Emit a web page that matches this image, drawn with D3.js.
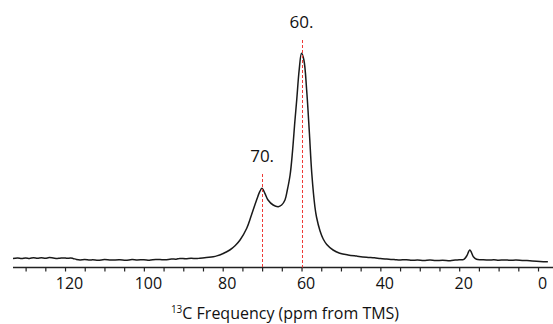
<!DOCTYPE html>
<html><head><meta charset="utf-8">
<script src="https://cdn.jsdelivr.net/npm/d3@7"></script>
<style>
html,body{margin:0;padding:0;background:#fff;}
svg{display:block;font-family:"Open Sans",sans-serif;}
</style></head>
<body><svg id="c" width="553" height="324"></svg>
<script>
// Spectrum trace: chemical shift (ppm) and intensity (arbitrary units)
const ppm = [133.2,132,131,130,129,128,127,126,125,124,123,122,121.3,120.3,119.5,118.6,118,117.1,116.2,115,113.7,113,111.6,110,108.4,106.1,104.6,103,101.7,100,98.6,97,95.9,94.6,93,91.8,90.9,89.4,88,86.7,85.8,84.6,83.5,82.4,81.5,80,78.2,76.8,75.6,73.9,72.7,71.4,70.6,70.05,69.3,68.5,67.2,65.9,65.05,64.2,63.6,62.9,62.3,61.7,61.2,60.6,60.0,59.4,58.7,58.0,57.4,56.6,56.2,55.3,54.5,53.6,52.0,50.3,48.2,46,43.5,41.5,40,38.4,37,36,35,33.4,32,30.6,29,27.4,26,24.2,22.3,21,20,18.8,18.1,17.3,16.4,15.6,14.3,12.5,11.2,10,8.5,7.1,5.6,4,2.8,1.5,-0.5,-2.5,-3.8];
const intensity = [3.5,3.9,3.4,4.1,3.6,4.3,3.8,4.2,3.7,4.4,4.0,3.6,3.8,4.1,3.7,4.0,3.6,2.6,2.1,2.4,1.9,2.3,1.8,2.4,2.0,2.2,1.7,2.4,2.0,2.3,1.8,2.6,2.5,2.2,3.0,2.8,3.6,3.3,3.7,3.4,3.8,4.3,4.7,5.3,6.1,8.3,12,16.5,22,33.7,47,62,70.3,73.7,68.7,62,57,55.3,57,62,72,87,110,140,163,192,208.7,202,172,128.7,88.7,55,45,31,23,17.5,12,8.8,7,5.9,4.8,4.2,3.5,3.0,2.6,2.2,2.0,2.3,1.7,2.0,1.5,1.9,1.4,1.7,1.3,1.9,2.2,2.7,6,12,5.3,2.7,2.3,1.9,2.2,1.8,2.1,1.7,2.0,1.6,1.5,1.1,0.6,0.3];
// Marked peaks
const peakPpm = [70, 60];
const peakLabels = ["70.", "60."];
const peakTop = [88, 222];
// Axis ticks
const tickValues = d3.range(130, -1, -5);
const labelValues = [120, 100, 80, 60, 40, 20, 0];
const xTitle = "Frequency (ppm from TMS)";

const svg = d3.select("#c");
const x = d3.scaleLinear().domain([133.2, -3.8]).range([13, 553]);
const y = d3.scaleLinear().domain([0, 220]).range([262, 42]);
const axisY = 267.5;

// axis
const ax = svg.append("g").attr("transform", `translate(0,${axisY})`)
  .call(d3.axisBottom(x).tickValues(tickValues).tickSize(4).tickSizeOuter(0)
    .tickFormat(d => labelValues.includes(d) ? d3.format("d")(d) : ""));
ax.select(".domain").attr("stroke", "#222").attr("stroke-width", 1.6).attr("d", "M13,0H553");
ax.selectAll(".tick line").attr("stroke", "#222").attr("stroke-width", 1.2);
ax.selectAll(".tick text").attr("font-size", 16).attr("fill", "#111").attr("y", 10).attr("dx", 4)
  .attr("font-family", "'Open Sans',sans-serif");

// x title
const t = svg.append("text").attr("x", 285).attr("y", 319).attr("text-anchor", "middle")
  .attr("font-size", 16).attr("fill", "#111");
t.append("tspan").attr("font-size", 10).attr("dy", -6).text("13");
t.append("tspan").attr("dy", 6).text("C " + xTitle);

// spectrum
const data = ppm.map((p, i) => [p, intensity[i]]);
svg.append("path").datum(data)
  .attr("fill", "none").attr("stroke", "#1a1a1a").attr("stroke-width", 1.5).attr("stroke-linejoin", "round")
  .attr("d", d3.line().x(d => x(d[0])).y(d => y(d[1])).curve(d3.curveCatmullRom.alpha(0.5)));

// reference lines
const pk = peakPpm.map((p, i) => ({p, label: peakLabels[i], top: peakTop[i]}));
const px = p => Math.round(x(p)) + 0.5;
svg.selectAll("line.ref").data(pk).join("line").attr("class", "ref")
  .attr("x1", d => px(d.p)).attr("x2", d => px(d.p))
  .attr("y1", d => y(d.top)).attr("y2", axisY)
  .attr("stroke", "#ee3a36").attr("stroke-width", 1).attr("stroke-dasharray", "3,2");
svg.selectAll("text.pk").data(pk).join("text").attr("class", "pk")
  .attr("x", d => x(d.p)).attr("y", d => y(d.top) - 12)
  .attr("text-anchor", "middle").attr("font-size", 17).attr("fill", "#111").text(d => d.label);
</script></body></html>
